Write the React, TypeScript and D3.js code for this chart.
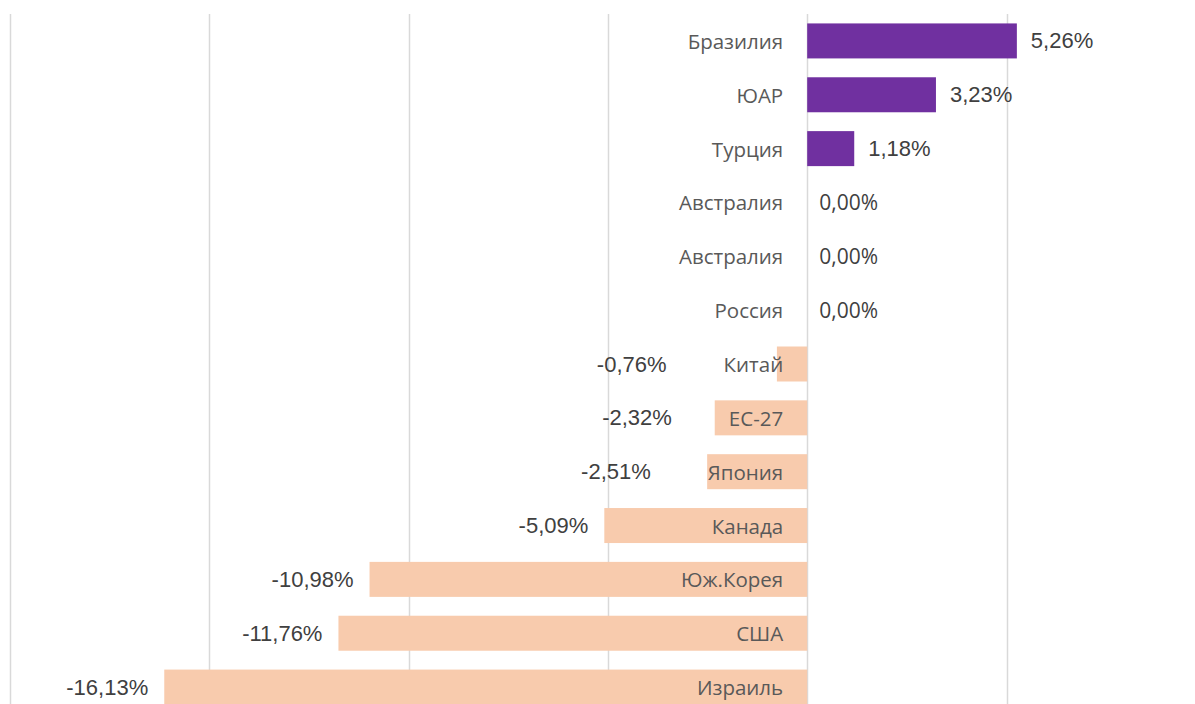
import React from "react";
import * as d3 from "d3";

const categories = ["Бразилия", "ЮАР", "Турция", "Австралия", "Австралия", "Россия", "Китай", "ЕС-27", "Япония", "Канада", "Юж.Корея", "США", "Израиль"];
const values = [5.26, 3.23, 1.18, 0, 0, 0, -0.76, -2.32, -2.51, -5.09, -10.98, -11.76, -16.13];
const gridTicks = [-20, -15, -10, -5, 0, 5, 10];

const W = 1195;
const H = 704;
const CAT_FONT = "20.5px 'Open Sans'";
const ZERO_FONT = "21px 'Open Sans'";
const VAL_FONT = "22px 'Liberation Sans', Arial";

function measure(text: string, font: string): number {
  if (typeof document === "undefined") return text.length * 10;
  const c = document.createElement("canvas");
  const ctx = c.getContext("2d");
  if (!ctx) return text.length * 10;
  ctx.font = font;
  return ctx.measureText(text).width;
}

const fmt = (v: number) => v.toFixed(2).replace(".", ",") + "%";

export default function App() {
  const x = d3.scaleLinear().domain([-20, 5]).range([10, 1006.5]);
  const idx = categories.map((_, i) => i);
  const y = d3.scaleBand<number>().domain(idx).range([14, 714]).paddingInner(0.35).paddingOuter(0.175);
  const x0 = x(0);
  const catRight = x0 - 24;

  return (
    <svg width={W} height={H} style={{ position: "absolute", left: 0, top: 0, background: "#fff" }}>
      <g>
        {gridTicks.map((t) => (
          <line key={t} x1={Math.round(x(t)) + 0.5} x2={Math.round(x(t)) + 0.5} y1={14} y2={H} stroke="#d9d9d9" strokeWidth={1.5} />
        ))}
      </g>
      <g>
        {idx.map((i) => {
          const v = values[i];
          const y0 = y(i)!;
          const bh = y.bandwidth();
          const cy = y0 + bh / 2;
          const xs = Math.min(x(v), x0);
          const xe = Math.max(x(v), x0);
          const color = v >= 0 ? "#7030a0" : "#f8cbad";
          const catW = measure(categories[i], CAT_FONT);
          let label: React.ReactNode;
          if (v > 0) {
            label = (
              <text x={xe + 14} y={cy} dominantBaseline="central" style={{ font: VAL_FONT }} fill="#404040">
                {fmt(v)}
              </text>
            );
          } else if (v === 0) {
            label = (
              <text x={x0 + 12} y={cy} dominantBaseline="central" style={{ font: ZERO_FONT }} fill="#404040">
                {fmt(v)}
              </text>
            );
          } else {
            const right = Math.min(xs - 16, catRight - catW - 57);
            label = (
              <text x={right} y={cy} textAnchor="end" dominantBaseline="central" style={{ font: VAL_FONT }} fill="#404040">
                {fmt(v)}
              </text>
            );
          }
          return (
            <g key={i}>
              {v !== 0 && <rect x={xs} y={y0} width={xe - xs} height={bh} fill={color} />}
              <text x={catRight} y={cy} textAnchor="end" dominantBaseline="central" style={{ font: CAT_FONT }} fill="#595959">
                {categories[i]}
              </text>
              {label}
            </g>
          );
        })}
      </g>
    </svg>
  );
}
